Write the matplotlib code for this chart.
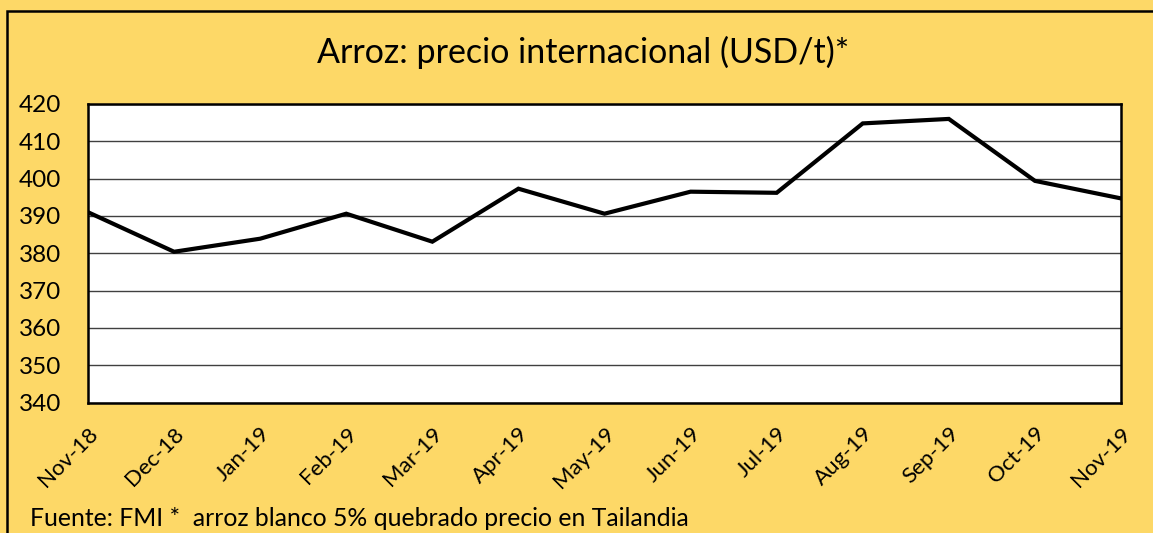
import matplotlib.pyplot as plt
from matplotlib.patches import Rectangle

# datos
meses = ['Nov-18', 'Dec-18', 'Jan-19', 'Feb-19', 'Mar-19', 'Apr-19', 'May-19',
         'Jun-19', 'Jul-19', 'Aug-19', 'Sep-19', 'Oct-19', 'Nov-19']
precio = [391.0, 380.4, 383.9, 390.6, 383.1, 397.3, 390.6,
          396.5, 396.2, 414.8, 416.0, 399.4, 394.7]
yticks = [340, 350, 360, 370, 380, 390, 400, 410, 420]

fondo = '#FDD867'
plt.rcParams['font.family'] = ['Lato', 'DejaVu Sans']

W, H = 1153, 533
fig = plt.figure(figsize=(W / 100, H / 100), dpi=100)
fig.patch.set_facecolor(fondo)

# marco exterior (solo arriba/izquierda visibles)
fig.patches.append(Rectangle((7 / W, -0.1), 1.2, 1 - 11 / H + 0.1,
                             transform=fig.transFigure, fill=False,
                             edgecolor='black', linewidth=1.8))

ax = fig.add_axes([88 / W, 1 - 402.5 / H, (1121 - 88) / W, (402.5 - 104) / H])
ax.set_facecolor('white')
x = list(range(len(meses)))
ax.plot(x, precio, color='black', linewidth=3.0, solid_joinstyle='miter')

ax.set_xlim(0, len(meses) - 1)
ax.set_ylim(340, 420)
ax.set_yticks(yticks)
ax.set_yticklabels([str(v) for v in yticks], fontsize=17.5)
ax.set_xticks(x)
ax.set_xticklabels(meses, fontsize=16, rotation=45, ha='right',
                   rotation_mode='anchor')
ax.tick_params(axis='both', length=0)
ax.tick_params(axis='y', pad=19.5)
ax.tick_params(axis='x', pad=15)
ax.grid(axis='y', color='#404040', linewidth=1.0)
ax.set_axisbelow(True)
for s in ax.spines.values():
    s.set_color('black')
    s.set_linewidth(1.8)

fig.text(583 / W, 1 - 52 / H, 'Arroz: precio internacional (USD/t)*',
         ha='center', va='center', fontsize=24.5)
fig.text(30 / W, 1 - 518 / H,
         'Fuente: FMI *  arroz blanco 5% quebrado precio en Tailandia',
         ha='left', va='center', fontsize=17.8)

fig.savefig('out.png', dpi=100, facecolor=fondo)
